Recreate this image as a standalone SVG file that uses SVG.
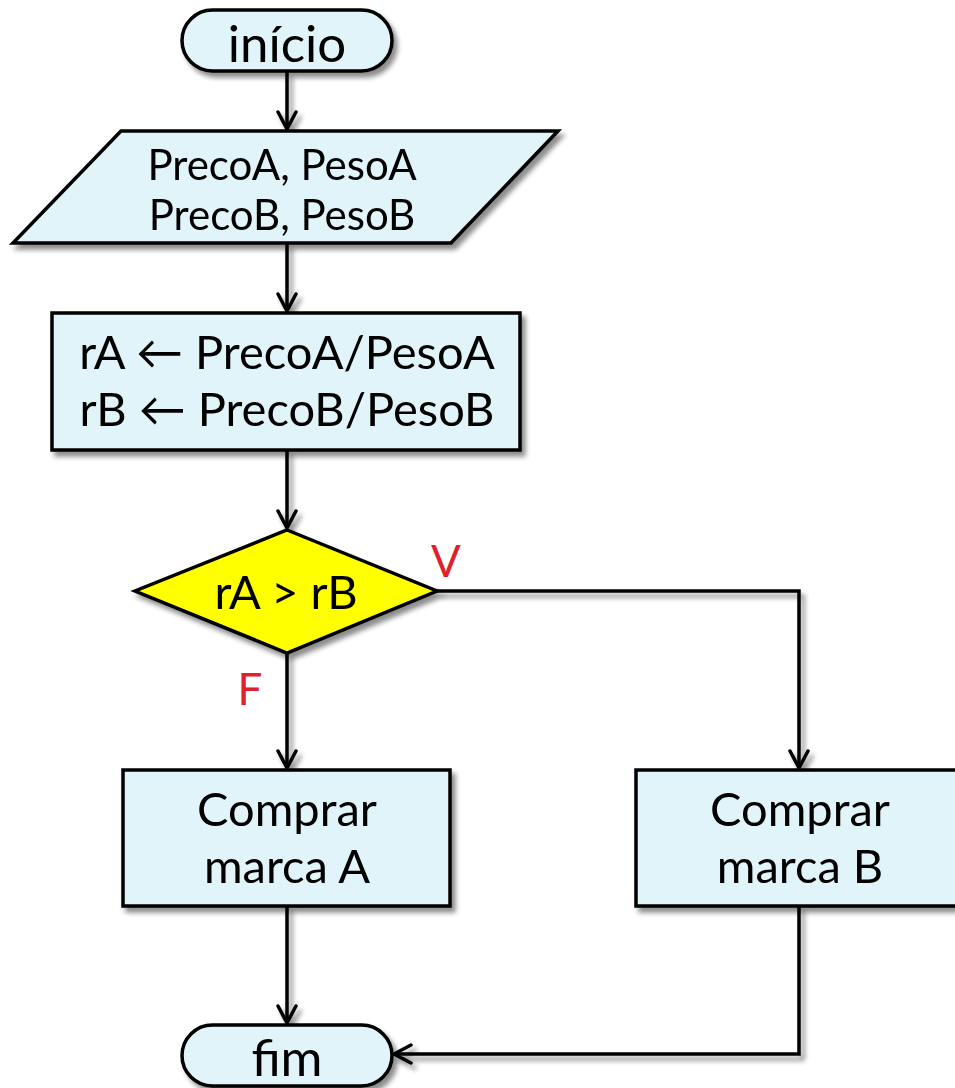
<svg xmlns="http://www.w3.org/2000/svg" width="955" height="1088" viewBox="0 0 955 1088">
  <style>
    .node { fill: #E1F4F9; stroke: #000; stroke-width: 3.5; }
    .dec { fill: #FFFF00; stroke: #000; stroke-width: 3.5; }
    .lbl { font-family: Lato, "Liberation Sans", sans-serif; font-size: 47px; fill: #000; text-anchor: middle; }
    .sm { font-size: 42px; }
    .term { font-size: 51px; }
    .cond { font-family: Lato, "Liberation Sans", sans-serif; font-size: 44px; fill: #E0202A; text-anchor: middle; }
    .edge { fill: none; stroke: #000; stroke-width: 3.5; }
  </style>
  <defs>
    <filter id="shadow" x="-10%" y="-10%" width="130%" height="140%">
      <feGaussianBlur in="SourceAlpha" stdDeviation="2.5"/>
      <feOffset dx="4" dy="5" result="b"/>
      <feComponentTransfer><feFuncA type="linear" slope="0.45"/></feComponentTransfer>
      <feMerge><feMergeNode/><feMergeNode in="SourceGraphic"/></feMerge>
    </filter>
    <marker id="arrow" viewBox="0 0 22 22" refX="20" refY="11" markerWidth="22" markerHeight="22" markerUnits="userSpaceOnUse" orient="auto">
      <path d="M3,2 L20,11 L3,20" fill="none" stroke="#000" stroke-width="3.5" stroke-linecap="round" stroke-linejoin="round"/>
    </marker>
  </defs>

  <!-- connectors -->
  <g id="connectors" filter="url(#shadow)">
    <line class="edge" x1="287" y1="72" x2="287" y2="129" marker-end="url(#arrow)"/>
    <line class="edge" x1="287" y1="243" x2="287" y2="311" marker-end="url(#arrow)"/>
    <line class="edge" x1="287" y1="450" x2="287" y2="528" marker-end="url(#arrow)"/>
    <line class="edge" x1="287" y1="653" x2="287" y2="768" marker-end="url(#arrow)"/>
    <polyline class="edge" points="437,591 799,591 799,768" marker-end="url(#arrow)"/>
    <line class="edge" x1="287" y1="906" x2="287" y2="1023" marker-end="url(#arrow)"/>
    <polyline class="edge" points="799,906 799,1054 394,1054" marker-end="url(#arrow)"/>
  </g>

  <g id="inicio" filter="url(#shadow)">
    <rect class="node" x="182" y="10" width="210" height="61" rx="30.5"/>
    <text class="lbl term" x="287" y="62">início</text>
  </g>

  <g id="entrada" filter="url(#shadow)">
    <polygon class="node" points="121,131 558,131 451,243 13,243"/>
    <text class="lbl sm" x="282" y="180">PrecoA, PesoA</text>
    <text class="lbl sm" x="282" y="230">PrecoB, PesoB</text>
  </g>

  <g id="calculo" filter="url(#shadow)">
    <rect class="node" x="52" y="313" width="468" height="137"/>
    <text class="lbl" x="287" y="369">rA ← PrecoA/PesoA</text>
    <text class="lbl" x="287" y="426">rB ← PrecoB/PesoB</text>
  </g>

  <g id="decisao" filter="url(#shadow)">
    <polygon class="dec" points="287,530 437,591 287,653 135,591"/>
    <text class="lbl" x="286" y="609">rA &gt; rB</text>
  </g>

  <g id="rotulos">
    <text class="cond" x="446" y="577">V</text>
    <text class="cond" x="250" y="705">F</text>
  </g>

  <g id="comprarA" filter="url(#shadow)">
    <rect class="node" x="123" y="770" width="327" height="136"/>
    <text class="lbl" x="287" y="826">Comprar</text>
    <text class="lbl" x="287" y="883">marca A</text>
  </g>

  <g id="comprarB" filter="url(#shadow)">
    <rect class="node" x="636" y="770" width="327" height="136"/>
    <text class="lbl" x="800" y="826">Comprar</text>
    <text class="lbl" x="800" y="883">marca B</text>
  </g>

  <g id="fim" filter="url(#shadow)">
    <rect class="node" x="182" y="1025" width="210" height="61" rx="30.5"/>
    <text class="lbl term" x="287" y="1076">fim</text>
  </g>
</svg>
